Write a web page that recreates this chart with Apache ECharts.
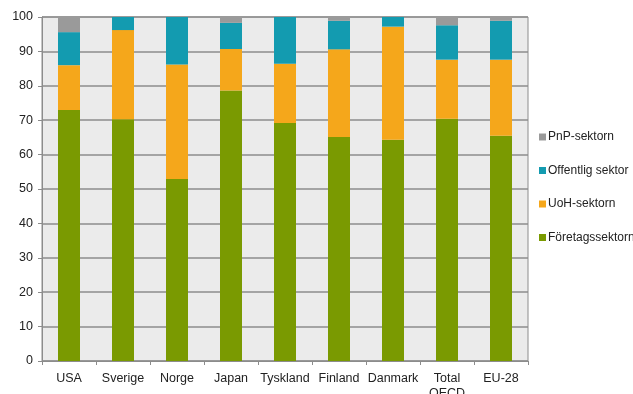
<!DOCTYPE html>
<html>
<head>
<meta charset="utf-8">
<script src="https://cdn.jsdelivr.net/npm/echarts@6/dist/echarts.min.js"></script>
<style>
  html, body { margin: 0; padding: 0; background: #fff; }
  #chart { width: 633px; height: 394px; }
</style>
</head>
<body>
<div id="chart"></div>
<script>
// Länder / kategorier
const categories = ['USA', 'Sverige', 'Norge', 'Japan', 'Tyskland', 'Finland', 'Danmark', 'Total\nOECD', 'EU-28'];

// Andel (%) per sektor
const foretag = [73.0, 70.3, 52.9, 78.6, 69.2, 65.1, 64.3, 70.4, 65.5];
const uoh = [13.0, 25.9, 33.3, 12.1, 17.2, 25.5, 32.9, 17.2, 22.1];
const offentlig = [9.6, 3.8, 13.8, 7.6, 13.6, 8.3, 2.8, 10.0, 11.3];
const pnp = [4.4, 0.0, 0.0, 1.7, 0.0, 1.1, 0.0, 2.4, 1.1];

const seriesNames = ['Företagssektorn', 'UoH-sektorn', 'Offentlig sektor', 'PnP-sektorn'];
const seriesColors = ['#7a9a01', '#f5a71b', '#139bb0', '#9a9a9a'];

function renderGrafico() {
    const chartDom = document.getElementById('chart');
    const myChart = echarts.init(chartDom, null, { renderer: 'canvas' });
    const values = [foretag, uoh, offentlig, pnp];

    const option = {
        animation: false,
        textStyle: { fontFamily: 'Liberation Sans, Arial, sans-serif' },
        grid: {
            left: 42,
            right: 105,
            top: 17,
            bottom: 33,
            outerBoundsMode: 'none',
            show: true,
            backgroundColor: '#ebebeb',
            borderColor: '#8c8c8c',
            borderWidth: 1
        },
        legend: {
            orient: 'vertical',
            left: 539,
            top: 131,
            padding: 0,
            itemWidth: 7,
            itemHeight: 7,
            itemGap: 21.5,
            icon: 'rect',
            data: ['PnP-sektorn', 'Offentlig sektor', 'UoH-sektorn', 'Företagssektorn'],
            textStyle: { fontSize: 12, color: '#222', padding: [0, 0, 0, -3], width: 70, overflow: 'none' }
        },
        xAxis: {
            type: 'category',
            data: categories,
            axisLine: { lineStyle: { color: '#8c8c8c', width: 1 } },
            axisTick: { show: true, length: 4, lineStyle: { color: '#8c8c8c' } },
            axisLabel: { fontSize: 12.5, color: '#222', margin: 10, interval: 0, lineHeight: 15 }
        },
        yAxis: {
            type: 'value',
            min: 0,
            max: 100,
            interval: 10,
            axisLine: { show: true, lineStyle: { color: '#8c8c8c', width: 1 } },
            axisTick: { show: true, length: 4, lineStyle: { color: '#8c8c8c' } },
            axisLabel: { fontSize: 12.5, color: '#222', margin: 9 },
            splitLine: { lineStyle: { color: '#8c8c8c', width: 1.5 } }
        },
        series: seriesNames.map((name, i) => ({
            name: name,
            type: 'bar',
            stack: 'total',
            barWidth: 22,
            data: values[i],
            itemStyle: { color: seriesColors[i] }
        }))
    };
    myChart.setOption(option);
}

renderGrafico();
</script>
</body>
</html>
